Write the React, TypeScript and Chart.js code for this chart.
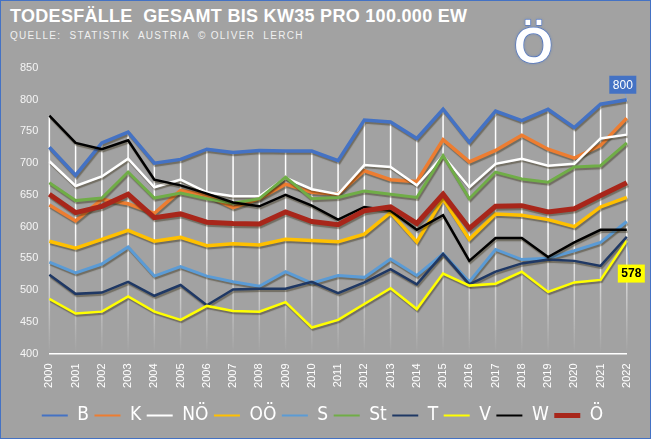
import { useEffect, useRef } from "react"
import Chart from "chart.js/auto"

const YEARS = [
  "2000", "2001", "2002", "2003", "2004", "2005", "2006", "2007", "2008", "2009", "2010", "2011",
  "2012", "2013", "2014", "2015", "2016", "2017", "2018", "2019", "2020", "2021", "2022",
]

const Y_TICKS = [400, 450, 500, 550, 600, 650, 700, 750, 800, 850]

const B = [725, 681, 732, 749, 700, 706, 722, 717, 720, 719, 719, 704, 768, 765, 739, 785, 733, 782, 767, 785, 756, 793, 800]
const K = [634, 609, 643, 636, 621, 657, 649, 630, 644, 667, 654, 651, 688, 674, 671, 737, 702, 720, 744, 722, 708, 728, 771]
const NOE = [703, 664, 679, 707, 662, 674, 654, 648, 648, 677, 659, 651, 697, 694, 665, 712, 662, 699, 707, 696, 699, 739, 745]
const OOE = [577, 566, 580, 594, 577, 583, 570, 573, 571, 580, 578, 576, 588, 622, 576, 644, 580, 620, 618, 611, 600, 631, 646]
const S = [544, 527, 541, 568, 522, 537, 522, 513, 506, 529, 511, 523, 520, 549, 523, 557, 513, 564, 548, 550, 562, 575, 608]
const ST = [669, 641, 645, 686, 645, 653, 644, 637, 644, 678, 644, 646, 656, 651, 646, 712, 644, 686, 675, 670, 694, 696, 732]
const T = [524, 494, 496, 513, 491, 508, 476, 501, 502, 502, 513, 495, 512, 533, 509, 557, 509, 529, 542, 548, 546, 538, 584]
const V = [486, 463, 466, 490, 466, 453, 475, 467, 466, 481, 441, 453, 478, 503, 470, 526, 507, 510, 529, 497, 512, 516, 578]
const W = [775, 732, 722, 736, 674, 665, 652, 638, 632, 650, 633, 611, 631, 625, 595, 618, 546, 582, 582, 552, 575, 595, 595]
const OE = [651, 622, 632, 651, 614, 620, 607, 605, 604, 623, 608, 603, 625, 631, 605, 651, 597, 632, 633, 623, 628, 649, 669]

const SERIES: [string, number[], string, number][] = [
  ["B", B, "#4472c4", 3.5],
  ["K", K, "#ed7d31", 3.5],
  ["NÖ", NOE, "#ffffff", 2.5],
  ["OÖ", OOE, "#ffc000", 3.5],
  ["S", S, "#5b9bd5", 3],
  ["St", ST, "#70ad47", 3],
  ["T", T, "#1f3864", 2.5],
  ["V", V, "#ffff00", 2.5],
  ["W", W, "#000000", 2.5],
  ["Ö", OE, "#a8261a", 5],
]

const NARROW = "'Liberation Sans Narrow', 'DejaVu Sans Condensed', sans-serif"
const SANS = "'Liberation Sans', Arial, sans-serif"

// white vertical lines from the highest value of each year down to the axis
const dropLines = {
  id: "dropLines",
  beforeDatasetsDraw(chart: any) {
    const { ctx, chartArea, scales } = chart
    const g = ctx.createLinearGradient(0, chartArea.top, 0, chartArea.bottom)
    g.addColorStop(0, "rgba(255,255,255,1)")
    g.addColorStop(0.55, "rgba(255,255,255,1)")
    g.addColorStop(1, "rgba(255,255,255,0)")
    ctx.save()
    ctx.strokeStyle = g
    ctx.lineWidth = 1.5
    YEARS.forEach((_, i) => {
      const top = Math.max(...chart.data.datasets.map((d: any) => d.data[i]))
      const x = scales.x.getPixelForValue(i)
      ctx.beginPath()
      ctx.moveTo(x, scales.y.getPixelForValue(top))
      ctx.lineTo(x, chartArea.bottom)
      ctx.stroke()
    })
    ctx.restore()
  },
}

const lineShadow = {
  id: "lineShadow",
  beforeDatasetDraw(chart: any) {
    const c = chart.ctx
    c.save()
    c.shadowColor = "rgba(40,30,0,0.4)"
    c.shadowOffsetX = 1
    c.shadowOffsetY = 2
    c.shadowBlur = 1
  },
  afterDatasetDraw(chart: any) {
    chart.ctx.restore()
  },
}

const endLabels = {
  id: "endLabels",
  afterDatasetsDraw(chart: any) {
    const { ctx } = chart
    const last = YEARS.length - 1
    const put = (idx: number, dx: number, dy: number, bg: string, fg: string, bold: boolean) => {
      const pt = chart.getDatasetMeta(idx).data[last]
      const value = chart.data.datasets[idx].data[last]
      const cx = pt.x + dx
      const cy = pt.y + dy
      ctx.save()
      ctx.strokeStyle = "rgba(120,160,220,0.7)"
      ctx.lineWidth = 1
      ctx.beginPath()
      ctx.moveTo(pt.x, pt.y)
      ctx.lineTo(cx, cy)
      ctx.stroke()
      ctx.fillStyle = bg
      ctx.fillRect(cx - 13.5, cy - 9, 27, 18)
      ctx.fillStyle = fg
      ctx.font = `${bold ? "bold " : ""}12px ${SANS}`
      ctx.textAlign = "center"
      ctx.textBaseline = "middle"
      ctx.fillText(String(value), cx, cy + 0.5)
      ctx.restore()
    }
    put(0, -4, -15, "#4472c4", "#ffffff", false)
    put(7, 4.5, 33, "#ffff00", "#000000", true)
  },
}

export default function App() {
  const canvasRef = useRef<HTMLCanvasElement | null>(null)

  useEffect(() => {
    const ctx = canvasRef.current?.getContext("2d")
    if (!ctx) return

    const chart = new Chart(ctx, {
      type: "line",
      data: {
        labels: YEARS,
        datasets: SERIES.map(([label, data, color, width], i) => ({
          label,
          data,
          borderColor: color,
          backgroundColor: color,
          borderWidth: width,
          pointRadius: 0,
          tension: 0,
          order: SERIES.length - i,
        })),
      },
      options: {
        responsive: true,
        maintainAspectRatio: false,
        animation: false,
        layout: { padding: { top: 67, left: 8, right: 14, bottom: 3 } },
        plugins: {
          tooltip: { enabled: false },
          legend: {
            position: "bottom",
            labels: {
              color: "#ffffff",
              font: { family: NARROW, size: 19 },
              usePointStyle: true,
              pointStyleWidth: 26,
              boxHeight: 4,
              padding: 5.5,
              generateLabels: (c: any) =>
                c.data.datasets.map((d: any, i: number) => ({
                  text: d.label,
                  fillStyle: d.borderColor,
                  strokeStyle: d.borderColor,
                  lineWidth: i === SERIES.length - 1 ? 5 : 2,
                  pointStyle: "line",
                  hidden: false,
                  datasetIndex: i,
                  fontColor: "#ffffff",
                })),
            },
          },
        },
        scales: {
          x: {
            grid: { display: false, drawTicks: false },
            border: { display: true, color: "#ffffff", width: 1.5 },
            ticks: {
              color: "#ffffff",
              font: { family: SANS, size: 11 },
              minRotation: 90,
              maxRotation: 90,
              padding: 10,
            },
            afterFit: (axis: any) => {
              axis.height = 47
            },
          },
          y: {
            min: Y_TICKS[0],
            max: Y_TICKS[Y_TICKS.length - 1],
            grid: { display: false, drawTicks: false },
            border: { display: false },
            afterBuildTicks: (axis: any) => {
              axis.ticks = Y_TICKS.map((v) => ({ value: v }))
            },
            ticks: {
              color: "#f5f5f5",
              font: { family: SANS, size: 11 },
              padding: 11,
            },
          },
        },
      },
      plugins: [dropLines, lineShadow, endLabels],
    })

    return () => chart.destroy()
  }, [])

  return (
    <div
      style={{
        position: "relative",
        width: 651,
        height: 439,
        boxSizing: "border-box",
        border: "1px solid #4472c4",
        background: "#a2a2a2",
        overflow: "hidden",
      }}
    >
      <style>{`body { margin: 0; }`}</style>
      <div
        style={{
          position: "absolute",
          left: 9,
          top: 6,
          font: `bold 18px/18px ${SANS}`,
          letterSpacing: "0.3px",
          color: "#ffffff",
          whiteSpace: "pre",
        }}
      >
        {"TODESFÄLLE  GESAMT BIS KW35 PRO 100.000 EW"}
      </div>
      <div
        style={{
          position: "absolute",
          left: 9,
          top: 30,
          font: `10px/10px ${SANS}`,
          letterSpacing: "1.3px",
          color: "#f0f0f0",
          whiteSpace: "pre",
        }}
      >
        {"QUELLE:  STATISTIK  AUSTRIA  © OLIVER  LERCH"}
      </div>
      <div
        style={{
          position: "absolute",
          left: 513,
          top: 20,
          font: `bold 50px/50px ${SANS}`,
          color: "#ffffff",
          WebkitTextStroke: "1px #4a6fc8",
          paintOrder: "stroke fill",
          textShadow: "0 0 3px #4472c4",
        }}
      >
        Ö
      </div>
      <div style={{ position: "absolute", inset: 0 }}>
        <canvas ref={canvasRef} />
      </div>
    </div>
  )
}
